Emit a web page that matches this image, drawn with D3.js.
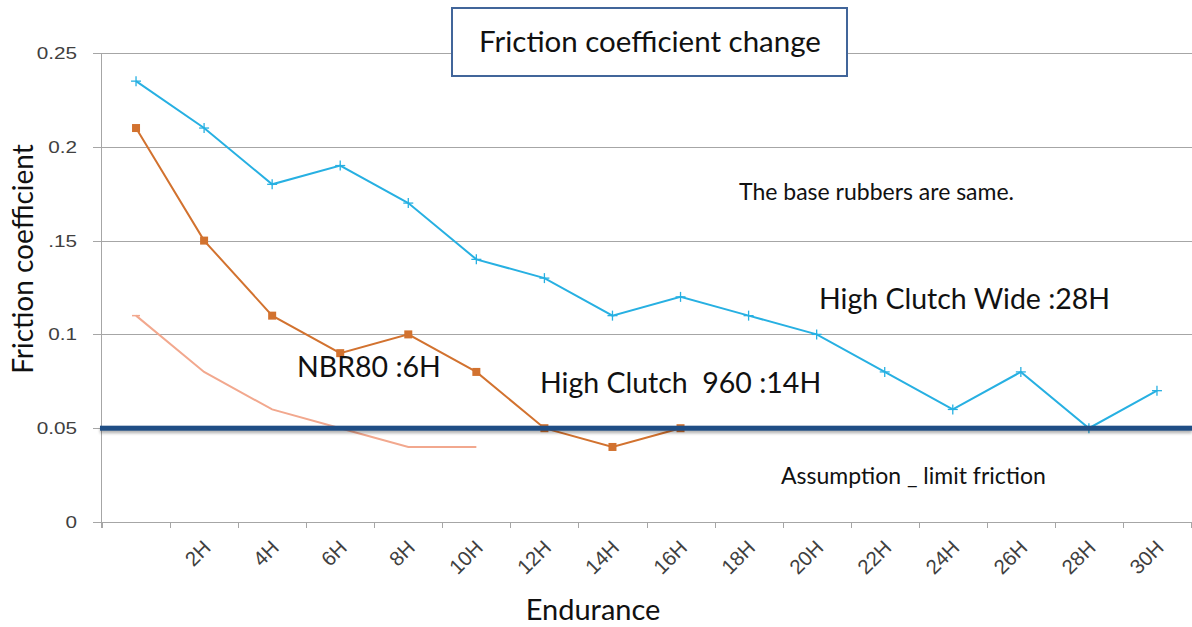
<!DOCTYPE html>
<html>
<head>
<meta charset="utf-8">
<script src="https://cdn.jsdelivr.net/npm/d3@7"></script>
<style>
  body { margin: 0; background: #fff; }
  svg { display: block; }
  .ytick text, .xtick text { font-family: "Liberation Sans", Arial, sans-serif; fill: #404040; }
  .note { font-family: Lato, "Open Sans", sans-serif; fill: #111; }
</style>
</head>
<body>
<svg id="chart"></svg>
<script>
// categories along the x axis (first one has no label)
const categories = ["", "2H", "4H", "6H", "8H", "10H", "12H", "14H", "16H", "18H", "20H", "22H", "24H", "26H", "28H", "30H"];

// friction coefficient series
const wideValues = [0.235, 0.21, 0.18, 0.19, 0.17, 0.14, 0.13, 0.11, 0.12, 0.11, 0.10, 0.08, 0.06, 0.08, 0.05, 0.07];
const c960Values = [0.21, 0.15, 0.11, 0.09, 0.10, 0.08, 0.05, 0.04, 0.05];
const nbrValues = [0.11, 0.08, 0.06, 0.05, 0.04, 0.04];

const yTicks = [0, 0.05, 0.1, 0.15, 0.2, 0.25];
const yTickLabels = ["0", "0.05", "0.1", ".15", "0.2", "0.25"];
const limitValue = 0.05;

const W = 1192, H = 627;
const margin = {left: 102, right: 1, top: 53, bottom: 105};

const svg = d3.select("#chart").attr("width", W).attr("height", H);

const x = d3.scaleBand().domain(categories).range([margin.left, W - margin.right]).padding(0);
const y = d3.scaleLinear().domain([0, 0.25]).range([H - margin.bottom, margin.top]);
const cx = c => x(c) + x.bandwidth() / 2;

// blur for the shadow under the limit line
const defs = svg.append("defs");
defs.append("filter").attr("id", "blur")
  .attr("filterUnits", "userSpaceOnUse")
  .attr("x", 0).attr("y", 400).attr("width", W).attr("height", 60)
  .append("feGaussianBlur").attr("stdDeviation", 1.8);

// gridlines
svg.append("g").selectAll("line")
  .data(yTicks)
  .join("line")
  .attr("x1", margin.left - 9).attr("x2", W)
  .attr("y1", d => Math.round(y(d)) + 0.5).attr("y2", d => Math.round(y(d)) + 0.5)
  .attr("stroke", "#a6a6a6").attr("stroke-width", 1);

// y axis line
svg.append("line")
  .attr("x1", margin.left - 0.5).attr("x2", margin.left - 0.5)
  .attr("y1", y(0.25)).attr("y2", y(0) + 6)
  .attr("stroke", "#a6a6a6");

// y tick labels (source picture is stretched sideways)
svg.append("g").attr("class", "ytick").selectAll("text")
  .data(yTicks)
  .join("text")
  .attr("transform", d => `translate(77,${y(d) + 6}) scale(1.22,1)`)
  .attr("text-anchor", "end")
  .attr("font-size", 17)
  .text((d, i) => yTickLabels[i]);

// x tick marks at category boundaries
const bounds = categories.map(c => x(c)).concat([x.range()[1]]);
svg.append("g").selectAll("line")
  .data(bounds)
  .join("line")
  .attr("x1", d => Math.round(d) + 0.5).attr("x2", d => Math.round(d) + 0.5)
  .attr("y1", y(0)).attr("y2", y(0) + 6)
  .attr("stroke", "#a6a6a6");

// x tick labels
svg.append("g").attr("class", "xtick").selectAll("text")
  .data(categories)
  .join("text")
  .attr("transform", c => `translate(${cx(c) + 8},${y(0) + 27}) rotate(-45)`)
  .attr("text-anchor", "end")
  .attr("font-size", 20.5)
  .text(c => c);

// series lines
const line = d3.line().x((d, i) => cx(categories[i])).y(d => y(d));

svg.append("path").datum(nbrValues)
  .attr("d", line).attr("fill", "none")
  .attr("stroke", "#f2a88e").attr("stroke-width", 2);
svg.append("line")
  .attr("x1", cx(categories[0]) - 4).attr("x2", cx(categories[0]) + 4)
  .attr("y1", y(nbrValues[0])).attr("y2", y(nbrValues[0]))
  .attr("stroke", "#f2a88e").attr("stroke-width", 1.5);

svg.append("path").datum(c960Values)
  .attr("d", line).attr("fill", "none")
  .attr("stroke", "#d2722f").attr("stroke-width", 2);
svg.append("g").selectAll("rect")
  .data(c960Values)
  .join("rect")
  .attr("x", (d, i) => cx(categories[i]) - 4).attr("y", d => y(d) - 4)
  .attr("width", 8).attr("height", 8)
  .attr("fill", "#d2722f");

svg.append("path").datum(wideValues)
  .attr("d", line).attr("fill", "none")
  .attr("stroke", "#27b0e2").attr("stroke-width", 2);
const cross = svg.append("g").selectAll("g")
  .data(wideValues)
  .join("g")
  .attr("transform", (d, i) => `translate(${cx(categories[i])},${y(d)})`);
cross.append("line").attr("x1", -5).attr("x2", 5).attr("stroke", "#27b0e2").attr("stroke-width", 1.3);
cross.append("line").attr("y1", -5).attr("y2", 5).attr("stroke", "#27b0e2").attr("stroke-width", 1.3);

// limit line with a soft shadow
const ly = y(limitValue);
svg.append("rect")
  .attr("x", margin.left - 2).attr("y", ly).attr("width", W - margin.left + 2).attr("height", 5)
  .attr("fill", "#000").attr("opacity", 0.3).attr("filter", "url(#blur)");
svg.append("rect")
  .attr("x", margin.left - 2).attr("y", ly - 2.5).attr("width", W - margin.left + 2).attr("height", 5)
  .attr("fill", "#1f4e85");

// title box
svg.append("rect")
  .attr("x", 452).attr("y", 8).attr("width", 395).attr("height", 68)
  .attr("fill", "#fff").attr("stroke", "#41659a").attr("stroke-width", 2);
svg.append("text").attr("class", "note")
  .attr("x", 650).attr("y", 52).attr("text-anchor", "middle")
  .attr("font-size", 29.5).text("Friction coefficient change");

// axis titles
svg.append("text").attr("class", "note")
  .attr("transform", `translate(33,${259}) rotate(-90)`)
  .attr("text-anchor", "middle").attr("font-size", 28)
  .text("Friction coefficient");
svg.append("text").attr("class", "note")
  .attr("x", 593).attr("y", 620).attr("text-anchor", "middle")
  .attr("font-size", 29).text("Endurance");

// annotations
const notes = [
  {t: "The base rubbers are same.", x: 739, y: 200, s: 23},
  {t: "High Clutch Wide :28H", x: 819, y: 309, s: 28.5},
  {t: "High Clutch  960 :14H", x: 540, y: 393, s: 28.5},
  {t: "NBR80 :6H", x: 297, y: 377, s: 28.5},
  {t: "Assumption _ limit friction", x: 781, y: 484, s: 23}
];
svg.append("g").selectAll("text")
  .data(notes)
  .join("text")
  .attr("class", "note")
  .attr("x", d => d.x).attr("y", d => d.y)
  .attr("font-size", d => d.s)
  .style("white-space", "pre")
  .text(d => d.t);
</script>
</body>
</html>
